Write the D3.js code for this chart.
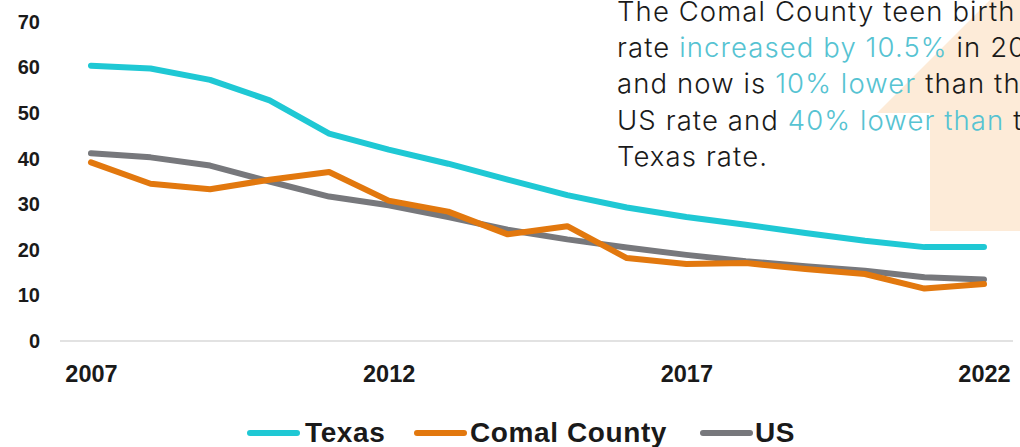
<!DOCTYPE html>
<html>
<head>
<meta charset="utf-8">
<script src="https://cdn.jsdelivr.net/npm/d3@7"></script>
<style>
  html, body { margin: 0; padding: 0; background: #ffffff; }
  svg { display: block; }
</style>
</head>
<body>
<svg id="chart" width="1020" height="447"></svg>
<script>
const years = [2007,2008,2009,2010,2011,2012,2013,2014,2015,2016,2017,2018,2019,2020,2021,2022];
const texas = [60.4,59.8,57.3,52.8,45.5,42.0,38.9,35.4,32.0,29.3,27.2,25.5,23.7,22.0,20.6,20.6];
const comal = [39.2,34.5,33.3,35.4,37.1,30.8,28.4,23.4,25.2,18.2,16.9,17.1,15.8,14.7,11.5,12.5];
const us    = [41.2,40.3,38.5,35.0,31.7,29.8,27.2,24.4,22.3,20.5,18.9,17.5,16.4,15.4,14.0,13.5];
const yTicks = [0,10,20,30,40,50,60,70];
const xTicks = [2007,2012,2017,2022];
const seriesNames = ["Texas","Comal County","US"];
const seriesColors = ["#1fc8d4","#e2780e","#77787c"];

const svg = d3.select("#chart");
const x = d3.scaleLinear().domain([2007,2022]).range([91,984]);
const y = d3.scaleLinear().domain([0,70]).range([341,22]);

// background arrow
svg.append("polygon")
  .attr("points", [[930,231],[930,113],[877,113],[1000,-10],[1100,-10],[1100,231]].map(p=>p.join(",")).join(" "))
  .attr("fill", "#fdebd8");

// baseline
svg.append("line").attr("x1",60).attr("x2",1013).attr("y1",y(0)).attr("y2",y(0))
  .attr("stroke","#d9d9d9").attr("stroke-width",1.5);

// y axis
const yAxis = svg.append("g").attr("transform","translate(40,0)")
  .call(d3.axisLeft(y).tickValues(yTicks).tickSize(0).tickPadding(0).tickFormat(d3.format("d")));
yAxis.select(".domain").remove();
yAxis.selectAll("text").attr("font-family","'Liberation Sans', Arial, sans-serif")
  .attr("font-weight","bold").attr("font-size",20).attr("fill","#1a1a1a");

// x axis
const xAxis = svg.append("g").attr("transform","translate(0,365)")
  .call(d3.axisBottom(x).tickValues(xTicks).tickSize(0).tickPadding(0).tickFormat(d3.format("d")));
xAxis.select(".domain").remove();
xAxis.selectAll("text").attr("font-family","'Liberation Sans', Arial, sans-serif")
  .attr("font-weight","bold").attr("font-size",23.5).attr("fill","#1a1a1a").attr("dy","0.72em");

// lines
const line = d3.line().x((d,i)=>x(years[i])).y(d=>y(d)).curve(d3.curveLinear);
[us, comal, texas].forEach((s, k) => {
  const idx = [2,1,0][k];
  svg.append("path").datum(s).attr("d", line).attr("fill","none")
    .attr("stroke", seriesColors[idx]).attr("stroke-width",6)
    .attr("stroke-linejoin","round").attr("stroke-linecap","round");
});

// annotation text
const hl = "#56c3d2", dark = "#1a1a1a";
const annLines = [
  [["The Comal County teen birth", dark]],
  [["rate ", dark],["increased by 10.5%", hl],[" in 2022", dark]],
  [["and now is ", dark],["10% lower", hl],[" than the", dark]],
  [["US rate and ", dark],["40% lower than", hl],[" the", dark]],
  [["Texas rate.", dark]]
];
const ann = svg.append("text").attr("font-family","Inter, 'Noto Sans', sans-serif")
  .attr("font-weight",300).attr("font-size",27.5).attr("letter-spacing",1.1)
  .style("white-space","pre");
annLines.forEach((ln, i) => {
  ln.forEach((seg, j) => {
    const t = ann.append("tspan").text(seg[0]).attr("fill", seg[1]);
    if (j === 0) t.attr("x",617).attr("y",21 + i*36.2);
  });
});

// legend
const legX = [247,414,700];
const legTx = [305,470,755];
seriesNames.forEach((n,i) => {
  svg.append("line").attr("x1",legX[i]+3).attr("x2",legX[i]+50).attr("y1",433).attr("y2",433)
    .attr("stroke",seriesColors[i]).attr("stroke-width",6).attr("stroke-linecap","round");
  svg.append("text").attr("x",legTx[i]).attr("y",442).text(n)
    .attr("font-family","'Liberation Sans', Arial, sans-serif").attr("font-weight","bold")
    .attr("font-size",28).attr("letter-spacing",0.6).attr("fill","#1a1a1a");
});
</script>
</body>
</html>
